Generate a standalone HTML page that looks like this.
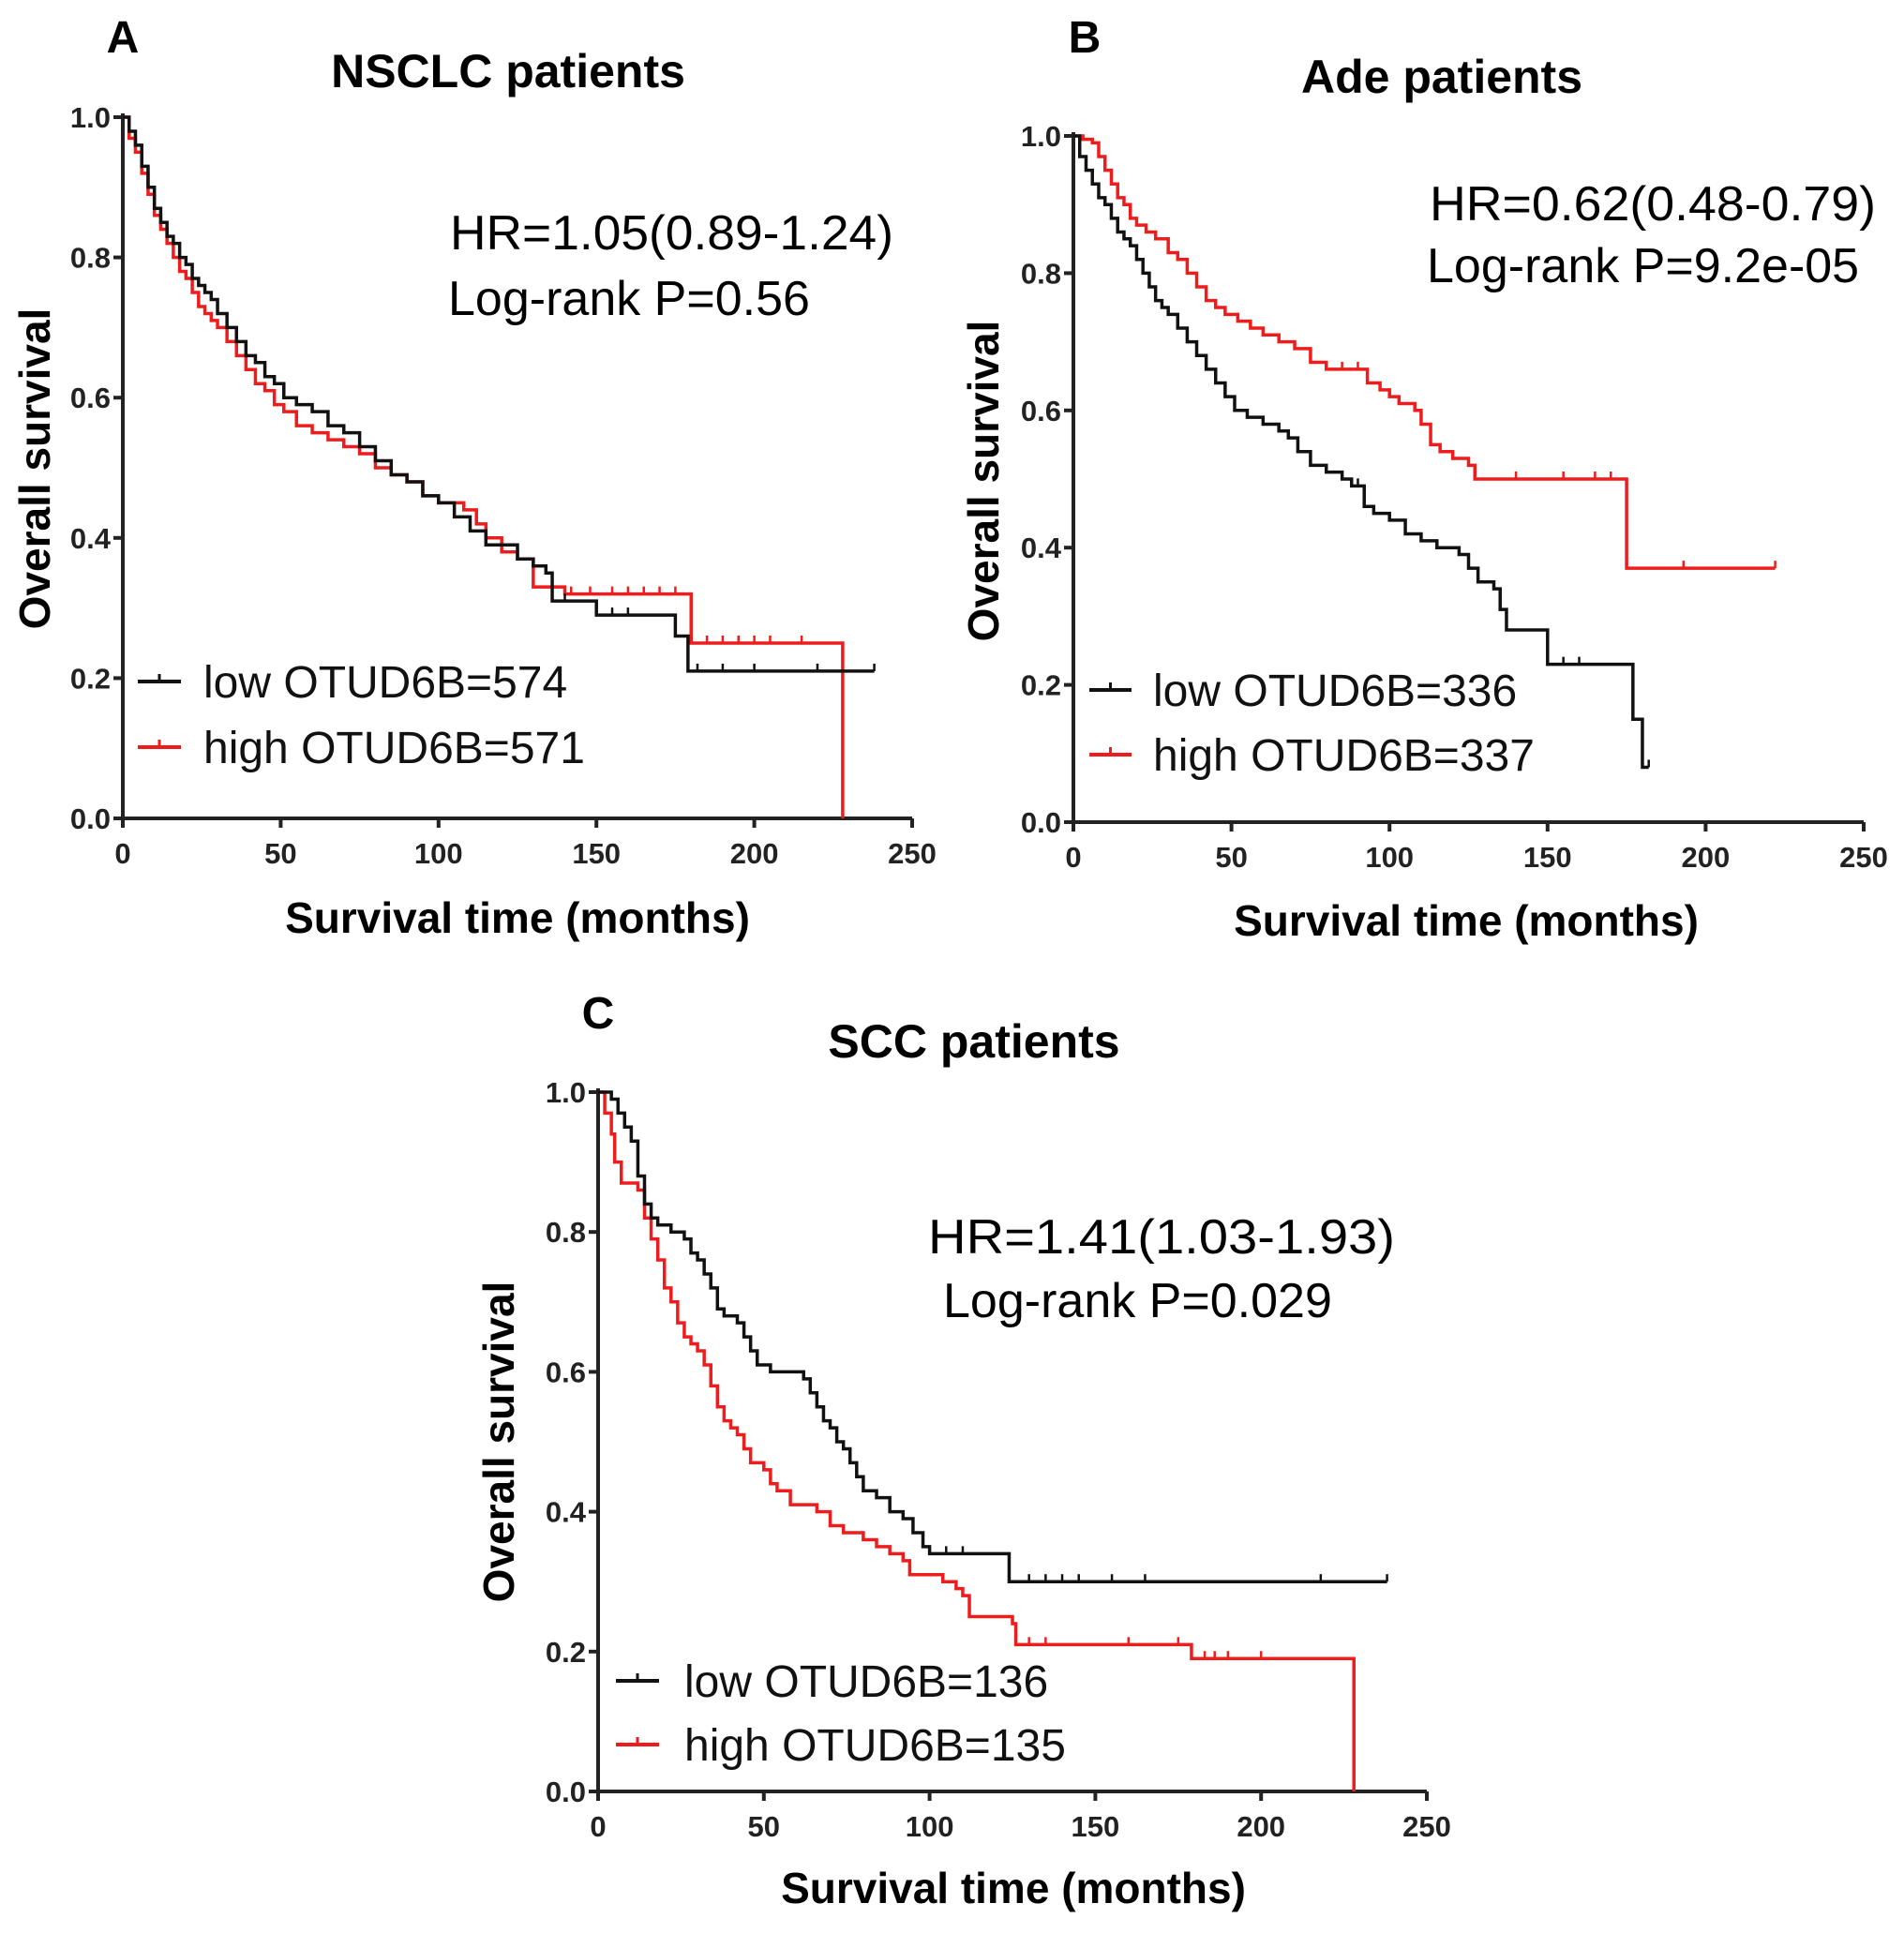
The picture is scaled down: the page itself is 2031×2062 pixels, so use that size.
<!DOCTYPE html>
<html><head><meta charset="utf-8"><style>
html,body{margin:0;padding:0;background:#fff;}
svg{display:block;font-family:"Liberation Sans",Arial,sans-serif;}
</style></head><body>
<svg id="fig" width="2031" height="2062" viewBox="0 0 2031 2062" xmlns="http://www.w3.org/2000/svg"></svg>
<script>
const xTicks = [0, 50, 100, 150, 200, 250];
const yTicks = [0.0, 0.2, 0.4, 0.6, 0.8, 1.0];
const titles = ["NSCLC patients", "Ade patients", "SCC patients"];
const panelLetters = ["A", "B", "C"];
const hrTexts = ["HR=1.05(0.89-1.24)", "HR=0.62(0.48-0.79)", "HR=1.41(1.03-1.93)"];
const pTexts = ["Log-rank P=0.56", "Log-rank P=9.2e-05", "Log-rank P=0.029"];
const lowLabels = ["low OTUD6B=574", "low OTUD6B=336", "low OTUD6B=136"];
const highLabels = ["high OTUD6B=571", "high OTUD6B=337", "high OTUD6B=135"];

const aLowT = [0,2,4,6,8,10,12,14,16,18,20,22,24,26,28,30,33,36,39,42,45,48,51,55,60,65,70,75,80,85,90,95,100,105,110,115,120,125,130,134,136,150,175,179,238];
const aLowS = [1,0.98,0.96,0.93,0.90,0.87,0.85,0.83,0.82,0.80,0.79,0.77,0.76,0.75,0.74,0.72,0.70,0.68,0.66,0.65,0.63,0.62,0.60,0.59,0.58,0.56,0.55,0.53,0.51,0.49,0.48,0.46,0.45,0.43,0.41,0.39,0.39,0.37,0.36,0.35,0.31,0.29,0.26,0.21,0.21];
const aHighT = [0,2,4,6,8,10,12,14,16,18,20,22,24,26,28,30,33,36,39,42,45,48,51,55,60,65,70,75,80,85,90,95,100,105,108,112,115,120,125,130,140,177,180,228,228];
const aHighS = [1,0.97,0.95,0.92,0.89,0.86,0.84,0.82,0.80,0.78,0.77,0.75,0.73,0.72,0.71,0.70,0.68,0.66,0.64,0.62,0.61,0.59,0.58,0.56,0.55,0.54,0.53,0.52,0.50,0.49,0.48,0.46,0.45,0.45,0.44,0.42,0.40,0.38,0.37,0.33,0.32,0.32,0.25,0.25,0];
const aLowCens = [140,150,155,160,182,190,200,220,238];
const aHighCens = [142,148,155,160,165,170,175,185,190,195,200,205,215];

const bLowT = [0,2,4,6,8,10,12,14,16,18,20,22,24,26,28,30,33,36,39,42,45,48,51,55,60,65,68,71,75,80,85,88,92,95,100,105,110,115,122,125,128,133,135,137,150,175,177,180,182];
const bLowS = [1,0.97,0.95,0.93,0.91,0.90,0.88,0.86,0.85,0.84,0.82,0.80,0.78,0.76,0.75,0.74,0.72,0.70,0.68,0.66,0.64,0.62,0.60,0.59,0.58,0.57,0.56,0.54,0.52,0.51,0.50,0.49,0.46,0.45,0.44,0.42,0.41,0.40,0.39,0.37,0.35,0.34,0.31,0.28,0.23,0.23,0.15,0.08,0.08];
const bHighT = [0,3,6,8,10,12,14,16,18,20,23,26,30,33,36,39,42,45,48,52,56,60,65,70,75,80,90,93,97,100,103,108,110,113,116,120,125,127,175,222];
const bHighS = [1,0.995,0.99,0.97,0.95,0.93,0.91,0.90,0.88,0.87,0.86,0.85,0.83,0.82,0.80,0.78,0.76,0.75,0.74,0.73,0.72,0.71,0.70,0.69,0.67,0.66,0.66,0.64,0.63,0.62,0.61,0.60,0.58,0.55,0.54,0.53,0.52,0.50,0.37,0.37];
const bLowCens = [60,75,90,115,125,155,160,182];
const bHighCens = [85,90,100,110,120,140,155,165,170,193,222];

const cLowT = [0,4,6,8,10,12,14,16,18,22,26,28,30,32,34,36,38,42,44,46,48,52,62,64,66,68,70,72,74,76,78,80,84,88,92,95,98,100,124,238];
const cLowS = [1,0.99,0.97,0.95,0.93,0.88,0.84,0.82,0.81,0.80,0.79,0.77,0.76,0.74,0.72,0.69,0.68,0.67,0.65,0.63,0.61,0.60,0.59,0.57,0.55,0.53,0.52,0.50,0.49,0.47,0.45,0.43,0.42,0.40,0.39,0.37,0.35,0.34,0.30,0.30];
const cHighT = [0,2,4,5,7,12,14,16,18,20,22,24,26,28,30,32,34,36,38,40,42,44,46,50,52,54,58,66,70,74,80,84,88,92,94,104,108,110,112,125,126,179,228,228];
const cHighS = [1,0.97,0.94,0.90,0.87,0.86,0.82,0.79,0.76,0.72,0.70,0.67,0.65,0.64,0.63,0.61,0.58,0.55,0.53,0.52,0.51,0.49,0.47,0.46,0.44,0.43,0.41,0.40,0.38,0.37,0.36,0.35,0.34,0.33,0.31,0.30,0.29,0.28,0.25,0.24,0.21,0.19,0.19,0];
const cLowCens = [105,110,130,135,140,145,155,165,218,238];
const cHighCens = [130,135,160,175,183,186,190,200];

const panels = [
  {x0:131,x1:973,y1:125,y0:873, low:[aLowT,aLowS,aLowCens], high:[aHighT,aHighS,aHighCens],
   letter:[131,40], title:[542,76], hr:[480,248,473], p:[478,318], leg:[147,193,217,727,797], ylab:[37,500], xlab:[552,979]},
  {x0:1145,x1:1988,y1:145,y0:877, low:[bLowT,bLowS,bLowCens], high:[bHighT,bHighS,bHighCens],
   letter:[1157,40], title:[1538,82], hr:[1525,217,476], p:[1522,283], leg:[1162,1207,1230,736,805], ylab:[1049,513], xlab:[1564,982]},
  {x0:638,x1:1522,y1:1165,y0:1911, low:[cLowT,cLowS,cLowCens], high:[cHighT,cHighS,cHighCens],
   letter:[638,1081], title:[1039,1111], hr:[990,1319,498], p:[1006,1387], leg:[657,703,730,1793,1861], ylab:[532,1538], xlab:[1081,2014]}
];

const NS = "http://www.w3.org/2000/svg";
const svg = document.getElementById("fig");
function el(tag, attrs, parent, text) {
  const e = document.createElementNS(NS, tag);
  for (const k in attrs) e.setAttribute(k, attrs[k]);
  if (text !== undefined) e.textContent = text;
  (parent || svg).appendChild(e);
  return e;
}
function stepAt(T, S, t) { let s = S[0]; for (let i = 0; i < T.length; i++) if (T[i] <= t) s = S[i]; return s; }

panels.forEach((p, i) => {
  const g = el("g", {});
  
  
  const X = t => p.x0 + (p.x1 - p.x0) * t / 250;
  const Y = s => p.y0 - (p.y0 - p.y1) * s;

  const lt = el("text", {x:p.letter[0], y:p.letter[1]+16, "font-size":48, "font-weight":"bold", "text-anchor":"middle"}, g, panelLetters[i]);
  
  
  const tt = el("text", {x:p.title[0], y:p.title[1]+17, "font-size":50, "font-weight":"bold", "text-anchor":"middle"}, g, titles[i]);
  
  

  const ax = el("path", {d:`M${p.x0},${Y(1)-4} V${p.y0} H${p.x1}`, stroke:"#222", "stroke-width":4, fill:"none"}, g);
  
  
  yTicks.forEach(v => {
    el("line", {x1:p.x0-10, x2:p.x0, y1:Y(v), y2:Y(v), stroke:"#222", "stroke-width":4}, g);
    const t = el("text", {x:p.x0-13, y:Y(v)+11, "font-size":31, "font-weight":"bold", "text-anchor":"end", fill:"#222"}, g, v.toFixed(1));
    
    
  });
  xTicks.forEach(v => {
    el("line", {x1:X(v), x2:X(v), y1:p.y0, y2:p.y0+10, stroke:"#222", "stroke-width":4}, g);
    const t = el("text", {x:X(v), y:p.y0+48, "font-size":31, "font-weight":"bold", "text-anchor":"middle", fill:"#222"}, g, String(v));
    
    
  });
  const yl = el("text", {x:0, y:0, "font-size":46, "font-weight":"bold", "text-anchor":"middle", transform:`translate(${p.ylab[0]+16},${p.ylab[1]}) rotate(-90)`}, g, "Overall survival");
  
  
  const xl = el("text", {x:p.xlab[0], y:p.xlab[1]+16, "font-size":46, "font-weight":"bold", "text-anchor":"middle"}, g, "Survival time (months)");
  
  

  [[p.high, "#ee1c1c", "high"], [p.low, "#111", "low"]].forEach(([ser, col, nm]) => {
    const [T, S, C] = ser;
    let d = `M${X(T[0])},${Y(S[0])}`;
    for (let k = 1; k < T.length; k++) d += ` H${X(T[k])} V${Y(S[k])}`;
    const path = el("path", {d, stroke:col, "stroke-width":3.5, fill:"none"}, g);
    
    
    C.forEach(c => {
      const cy = Y(stepAt(T, S, c));
      const m = el("line", {x1:X(c), x2:X(c), y1:cy-8, y2:cy, stroke:col, "stroke-width":2.5}, g);
      
      
    });
  });

  const hr = el("text", {x:p.hr[0], y:p.hr[1]+18, "font-size":52, "textLength":p.hr[2], "lengthAdjust":"spacingAndGlyphs"}, g, hrTexts[i]);
  
  
  const pv = el("text", {x:p.p[0], y:p.p[1]+18, "font-size":52}, g, pTexts[i]);
  
  

  [[lowLabels[i], "#111", p.leg[3], "low"], [highLabels[i], "#ee1c1c", p.leg[4], "high"]].forEach(([lab, col, ly, nm]) => {
    const lg = el("g", {}, g);
    
    
    el("line", {x1:p.leg[0], x2:p.leg[1], y1:ly, y2:ly, stroke:col, "stroke-width":4}, lg);
    el("line", {x1:(p.leg[0]+p.leg[1])/2, x2:(p.leg[0]+p.leg[1])/2, y1:ly-8, y2:ly, stroke:col, "stroke-width":3}, lg);
    el("text", {x:p.leg[2], y:ly+17, "font-size":48, fill:"#111"}, lg, lab);
  });
});
</script>
</body></html>
